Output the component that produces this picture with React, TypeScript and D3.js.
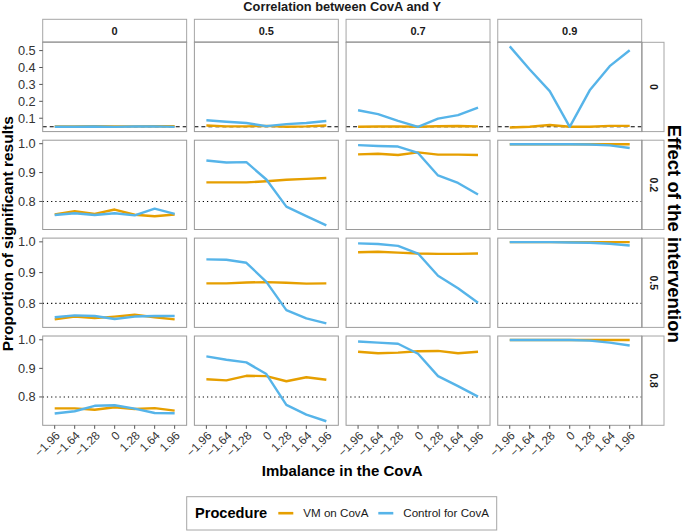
import React from "react";
import * as d3 from "d3";

const xLabels = ["\u22121.96", "\u22121.64", "\u22121.28", "0", "1.28", "1.64", "1.96"];
const corrLevels = ["0", "0.5", "0.7", "0.9"];
const effectLevels = ["0", "0.2", "0.5", "0.8"];
const procedures = ["VM on CovA", "Control for CovA"];
const procColors = ["#E69F00", "#56B4E9"];
const refLevels = [0.05, 0.8, 0.8, 0.8];
const yTicksNull = [0.1, 0.2, 0.3, 0.4, 0.5];
const yTicksPower = [0.8, 0.9, 1.0];

// one array per correlation level, values along the imbalance axis
const vmEffect0 = [
  [0.052, 0.052, 0.053, 0.052, 0.052, 0.053, 0.053],
  [0.057, 0.052, 0.052, 0.055, 0.05, 0.052, 0.057],
  [0.05, 0.051, 0.052, 0.05, 0.053, 0.054, 0.052],
  [0.045, 0.05, 0.06, 0.05, 0.05, 0.055, 0.055],
];
const ctlEffect0 = [
  [0.05, 0.05, 0.051, 0.049, 0.051, 0.052, 0.049],
  [0.088, 0.079, 0.072, 0.053, 0.065, 0.072, 0.084],
  [0.147, 0.124, 0.084, 0.049, 0.098, 0.118, 0.163],
  [0.525, 0.388, 0.26, 0.049, 0.265, 0.408, 0.502],
];
const vmEffect02 = [
  [0.755, 0.766, 0.757, 0.772, 0.754, 0.749, 0.755],
  [0.866, 0.866, 0.866, 0.87, 0.875, 0.878, 0.881],
  [0.963, 0.965, 0.961, 0.97, 0.962, 0.962, 0.961],
  [0.998, 0.998, 0.998, 0.998, 0.998, 0.998, 0.998],
];
const ctlEffect02 = [
  [0.753, 0.759, 0.753, 0.759, 0.752, 0.775, 0.757],
  [0.942, 0.935, 0.936, 0.876, 0.782, 0.749, 0.717],
  [0.995, 0.992, 0.99, 0.968, 0.89, 0.864, 0.824],
  [0.998, 0.998, 0.998, 0.998, 0.997, 0.994, 0.985],
];
const vmEffect05 = [
  [0.748, 0.757, 0.752, 0.757, 0.763, 0.755, 0.748],
  [0.865, 0.865, 0.868, 0.869, 0.867, 0.864, 0.865],
  [0.966, 0.968, 0.965, 0.962, 0.961, 0.961, 0.962],
  [0.999, 0.999, 0.999, 0.999, 0.999, 0.999, 0.999],
];
const ctlEffect05 = [
  [0.755, 0.761, 0.759, 0.749, 0.757, 0.759, 0.759],
  [0.943, 0.942, 0.932, 0.87, 0.778, 0.751, 0.735],
  [0.995, 0.993, 0.987, 0.962, 0.89, 0.849, 0.802],
  [0.999, 0.999, 0.999, 0.998, 0.997, 0.994, 0.988],
];
const vmEffect08 = [
  [0.76, 0.76, 0.755, 0.764, 0.758, 0.761, 0.752],
  [0.862, 0.858, 0.874, 0.873, 0.855, 0.869, 0.86],
  [0.958, 0.953, 0.955, 0.96, 0.961, 0.953, 0.958],
  [0.999, 0.999, 0.999, 0.999, 0.999, 0.999, 0.999],
];
const ctlEffect08 = [
  [0.742, 0.75, 0.769, 0.771, 0.759, 0.744, 0.743],
  [0.942, 0.93, 0.921, 0.88, 0.772, 0.738, 0.715],
  [0.994, 0.99, 0.986, 0.951, 0.873, 0.838, 0.801],
  [0.999, 0.999, 0.999, 0.999, 0.997, 0.99, 0.98],
];

const rows = [
  [vmEffect0, ctlEffect0],
  [vmEffect02, ctlEffect02],
  [vmEffect05, ctlEffect05],
  [vmEffect08, ctlEffect08],
];

const FONT = "'Liberation Sans', Arial, Helvetica, sans-serif";

export default function App() {
  const width = 685;
  const height = 531;

  const colBand = d3.scaleBand().domain(corrLevels).range([42.7, 641.7]).paddingInner(0.051);
  const rowBand = d3.scaleBand().domain(effectLevels).range([42.3, 425.3]).paddingInner(0.088);
  const pw = colBand.bandwidth();
  const ph = rowBand.bandwidth();

  const x = d3.scalePoint().domain(xLabels).range([0, pw]).padding(0.6);

  // free y per row, ggplot style 5% expansion
  const yScales = rows.map((r, ri) => {
    const all = r.flat(2).concat([refLevels[ri]]);
    const [lo, hi] = d3.extent(all) as [number, number];
    const pad = (hi - lo) * 0.05;
    return d3.scaleLinear().domain([lo - pad, hi + pad]).range([ph, 0]);
  });

  const stripTop = 19.3;
  const stripH = 23;
  const stripX = 641.7;
  const stripW = 22.3;
  const plotCenterY = (42.3 + 425.3) / 2;
  const plotCenterX = (42.7 + 641.7) / 2;

  return (
    <svg width={width} height={height} style={{ position: "absolute", left: 0, top: 0, background: "#fff" }} fontFamily={FONT}>
      <rect width={width} height={height} fill="#fff" />
      <text x={plotCenterX} y={11} textAnchor="middle" fontSize={12.8} fontWeight="bold" fill="#1a1a1a">
        Correlation between CovA and Y
      </text>

      {corrLevels.map((c) => (
        <g key={"strip" + c} transform={`translate(${colBand(c)},${stripTop})`}>
          <rect width={pw} height={stripH} fill="#fff" stroke="#a6a6a6" strokeWidth={1} />
          <line x1={0} x2={pw} y1={stripH} y2={stripH} stroke="#333" strokeWidth={1} />
          <text x={pw / 2} y={15.8} textAnchor="middle" fontSize={11} fontWeight="bold" fill="#1a1a1a">
            {c}
          </text>
        </g>
      ))}

      {effectLevels.map((e) => (
        <g key={"rstrip" + e} transform={`translate(${stripX},${rowBand(e)})`}>
          <rect width={stripW} height={ph} fill="#fff" stroke="#a6a6a6" strokeWidth={1} />
          <line x1={0} x2={0} y1={0} y2={ph} stroke="#333" strokeWidth={1} />
          <text
            transform={`translate(${stripW / 2 - 3.2},${ph / 2}) rotate(90)`}
            textAnchor="middle"
            fontSize={10.5}
            fontWeight="bold"
            fill="#1a1a1a"
          >
            {e}
          </text>
        </g>
      ))}

      {rows.map((r, ri) =>
        corrLevels.map((c, ci) => {
          const y = yScales[ri];
          const line = d3
            .line<number>()
            .x((_, i) => x(xLabels[i]) as number)
            .y((d) => y(d));
          const ref = refLevels[ri];
          return (
            <g key={`p${ri}-${ci}`} transform={`translate(${colBand(c)},${rowBand(effectLevels[ri])})`}>
              <rect width={pw} height={ph} fill="#fff" />
              <line
                x1={0}
                x2={pw}
                y1={y(ref)}
                y2={y(ref)}
                stroke="#000"
                strokeWidth={1.1}
                strokeDasharray={ri === 0 ? "4,3" : "1.2,3"}
              />
              {r.map((series, pi) => (
                <path
                  key={pi}
                  d={line(series[ci]) || ""}
                  fill="none"
                  stroke={procColors[pi]}
                  strokeWidth={2.4}
                  strokeLinejoin="round"
                />
              ))}
              <rect width={pw} height={ph} fill="none" stroke="#9a9a9a" strokeWidth={1} />
              {ci === 0 &&
                (ri === 0 ? yTicksNull : yTicksPower).map((t) => (
                  <g key={t} transform={`translate(0,${y(t)})`}>
                    <line x1={-3.5} x2={0} stroke="#555" strokeWidth={1} />
                    <text x={-7} dy="0.35em" textAnchor="end" fontSize={12.8} fill="#333">
                      {t.toFixed(1)}
                    </text>
                  </g>
                ))}
              {ri === 3 &&
                xLabels.map((lab) => (
                  <g key={lab} transform={`translate(${x(lab)},${ph})`}>
                    <line y1={0} y2={3.5} stroke="#555" strokeWidth={1} />
                    <text
                      transform="translate(0,5) rotate(-45)"
                      dy="0.72em"
                      textAnchor="end"
                      fontSize={11.8}
                      fill="#333"
                    >
                      {lab}
                    </text>
                  </g>
                ))}
            </g>
          );
        })
      )}

      <text
        transform={`translate(13,${plotCenterY}) rotate(-90)`}
        textAnchor="middle"
        fontSize={15.5}
        fontWeight="bold"
        fill="#000"
      >
        Proportion of significant results
      </text>
      <text
        transform={`translate(668,${plotCenterY}) rotate(90)`}
        textAnchor="middle"
        fontSize={18.5}
        fontWeight="bold"
        fill="#000"
      >
        Effect of the intervention
      </text>
      <text x={plotCenterX} y={476} textAnchor="middle" fontSize={15} fontWeight="bold" fill="#000">
        Imbalance in the CovA
      </text>

      <g transform="translate(186.7,496.7)">
        <rect width={310} height={33.3} fill="#fff" stroke="#a6a6a6" strokeWidth={1} />
        <text x={8.3} y={21.5} fontSize={14.6} fontWeight="bold" fill="#000">
          Procedure
        </text>
        {procedures.map((p, i) => {
          const kx = i === 0 ? 91.6 : 191.6;
          return (
            <g key={p}>
              <line x1={kx} x2={kx + 15} y1={16.5} y2={16.5} stroke={procColors[i]} strokeWidth={2.6} />
              <text x={kx + 25} y={20.6} fontSize={11.6} fill="#1a1a1a">
                {p}
              </text>
            </g>
          );
        })}
      </g>
    </svg>
  );
}
